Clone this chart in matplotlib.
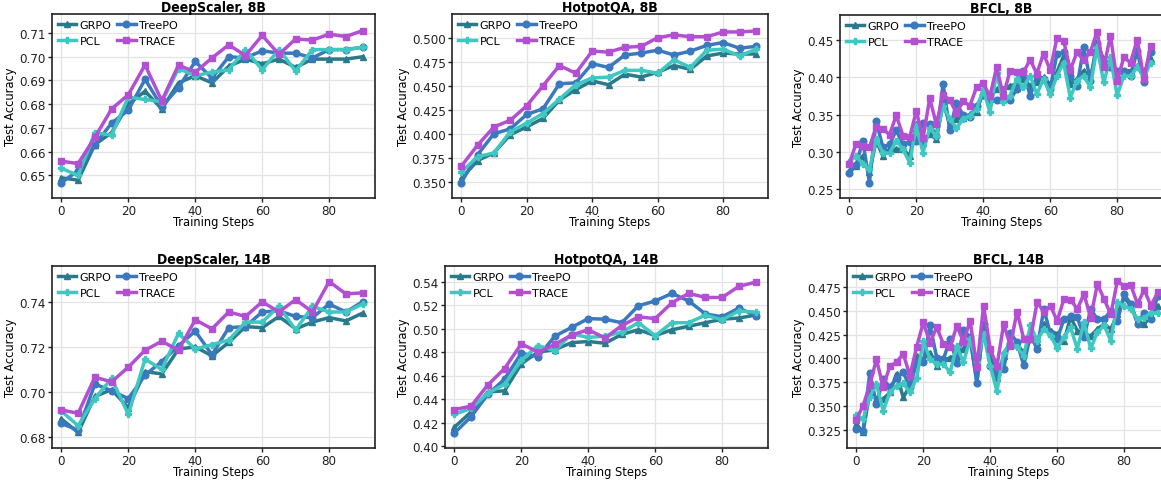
import matplotlib.pyplot as plt
import numpy as np

# training steps
steps_5 = np.arange(0, 91, 5)
steps_2 = np.arange(0, 91, 2)

# DeepScaler, 8B
ds8_grpo = [0.649, 0.648, 0.663, 0.668, 0.680, 0.6855, 0.678, 0.689, 0.692, 0.689,
            0.696, 0.699, 0.697, 0.699, 0.6955, 0.699, 0.699, 0.699, 0.700]
ds8_treepo = [0.647, 0.652, 0.663, 0.672, 0.6775, 0.6905, 0.679, 0.687, 0.698, 0.691,
              0.700, 0.6995, 0.7025, 0.7015, 0.7015, 0.6995, 0.703, 0.703, 0.704]
ds8_pcl = [0.653, 0.650, 0.668, 0.667, 0.683, 0.682, 0.681, 0.695, 0.692, 0.6935,
           0.6945, 0.703, 0.6945, 0.703, 0.694, 0.703, 0.703, 0.703, 0.704]
ds8_trace = [0.656, 0.655, 0.666, 0.678, 0.684, 0.6965, 0.6815, 0.6965, 0.6935, 0.6995,
             0.705, 0.7005, 0.709, 0.701, 0.7075, 0.707, 0.7095, 0.7085, 0.711]

# HotpotQA, 8B
hq8_grpo = [0.353, 0.372, 0.380, 0.399, 0.407, 0.416, 0.435, 0.446, 0.455, 0.451,
            0.462, 0.459, 0.464, 0.471, 0.467, 0.481, 0.484, 0.483, 0.483]
hq8_treepo = [0.349, 0.378, 0.400, 0.405, 0.420, 0.426, 0.452, 0.453, 0.473, 0.469,
              0.482, 0.484, 0.487, 0.482, 0.486, 0.492, 0.495, 0.489, 0.491]
hq8_pcl = [0.360, 0.376, 0.380, 0.402, 0.411, 0.421, 0.436, 0.451, 0.458, 0.459,
           0.466, 0.466, 0.463, 0.477, 0.469, 0.487, 0.488, 0.481, 0.488]
hq8_trace = [0.366, 0.388, 0.407, 0.414, 0.429, 0.450, 0.471, 0.463, 0.486, 0.485,
             0.490, 0.491, 0.500, 0.503, 0.501, 0.501, 0.506, 0.506, 0.507]

# BFCL, 8B
bf8_grpo = [0.2745, 0.281, 0.2946, 0.2723, 0.3148, 0.2946, 0.3036, 0.3036, 0.3036, 0.2946,
            0.337, 0.3125, 0.324, 0.317, 0.366, 0.337, 0.344, 0.346, 0.3505, 0.353,
            0.382, 0.374, 0.384, 0.384, 0.389, 0.391, 0.398, 0.389, 0.394, 0.400,
            0.391, 0.407, 0.429, 0.391, 0.398, 0.409, 0.398, 0.443, 0.425, 0.416,
            0.405, 0.409, 0.409, 0.416, 0.407, 0.425]
bf8_treepo = [0.2714, 0.282, 0.3147, 0.2588, 0.3416, 0.306, 0.310, 0.329, 0.310, 0.3135,
              0.315, 0.339, 0.337, 0.321, 0.391, 0.329, 0.366, 0.349, 0.347, 0.362,
              0.376, 0.370, 0.370, 0.370, 0.370, 0.384, 0.409, 0.375, 0.402, 0.398,
              0.384, 0.4317, 0.434, 0.402, 0.388, 0.4406, 0.3955, 0.447, 0.420, 0.4136,
              0.409, 0.409, 0.402, 0.436, 0.394, 0.434]
bf8_pcl = [0.2866, 0.2946, 0.2834, 0.2767, 0.317, 0.299, 0.298, 0.315, 0.3036, 0.2857,
           0.3345, 0.299, 0.332, 0.321, 0.3615, 0.344, 0.332, 0.344, 0.3485, 0.3575,
           0.384, 0.353, 0.4065, 0.3665, 0.3755, 0.398, 0.387, 0.402, 0.3776, 0.398,
           0.3776, 0.402, 0.420, 0.373, 0.3955, 0.402, 0.387, 0.4406, 0.3933, 0.427,
           0.376, 0.402, 0.402, 0.4136, 0.400, 0.420]
bf8_trace = [0.2843, 0.311, 0.308, 0.306, 0.334, 0.331, 0.323, 0.349, 0.322, 0.3195,
             0.355, 0.318, 0.372, 0.337, 0.376, 0.370, 0.352, 0.368, 0.362, 0.387,
             0.392, 0.375, 0.4136, 0.3756, 0.409, 0.4077, 0.407, 0.424, 0.405, 0.432,
             0.410, 0.4527, 0.4496, 0.410, 0.434, 0.423, 0.434, 0.4617, 0.4135, 0.456,
             0.3955, 0.427, 0.420, 0.451, 0.398, 0.443]

# DeepScaler, 14B
ds14_grpo = [0.688, 0.682, 0.698, 0.701, 0.693, 0.709, 0.708, 0.719, 0.720, 0.716,
             0.722, 0.729, 0.7285, 0.7335, 0.728, 0.731, 0.733, 0.7315, 0.735]
ds14_treepo = [0.686, 0.683, 0.7035, 0.7005, 0.697, 0.7075, 0.7135, 0.7205, 0.727, 0.7165,
               0.7285, 0.729, 0.7355, 0.736, 0.7335, 0.733, 0.739, 0.7355, 0.740]
ds14_pcl = [0.6915, 0.685, 0.697, 0.706, 0.690, 0.7145, 0.710, 0.726, 0.719, 0.721,
            0.723, 0.731, 0.731, 0.738, 0.7275, 0.738, 0.7355, 0.7355, 0.739]
ds14_trace = [0.692, 0.6905, 0.7065, 0.7045, 0.711, 0.7185, 0.7225, 0.7185, 0.732, 0.728,
              0.7355, 0.7335, 0.740, 0.7355, 0.741, 0.7355, 0.749, 0.7435, 0.744]

# HotpotQA, 14B
hq14_grpo = [0.416, 0.429, 0.446, 0.447, 0.470, 0.480, 0.482, 0.488, 0.489, 0.4875,
             0.495, 0.499, 0.494, 0.499, 0.502, 0.505, 0.508, 0.509, 0.5115]
hq14_treepo = [0.411, 0.425, 0.444, 0.457, 0.479, 0.476, 0.4935, 0.501, 0.5085, 0.508,
               0.505, 0.5195, 0.5235, 0.530, 0.5235, 0.5125, 0.510, 0.5175, 0.511]
hq14_pcl = [0.427, 0.432, 0.445, 0.4525, 0.473, 0.4855, 0.481, 0.4955, 0.4925, 0.4935,
            0.497, 0.505, 0.494, 0.505, 0.505, 0.5115, 0.5075, 0.515, 0.514]
hq14_trace = [0.431, 0.434, 0.452, 0.466, 0.487, 0.480, 0.4865, 0.4945, 0.499, 0.492,
              0.5025, 0.510, 0.5085, 0.522, 0.530, 0.5265, 0.5265, 0.536, 0.5395]

# BFCL, 14B
bf14_grpo = [0.3316, 0.323, 0.3645, 0.3575, 0.3575, 0.3645, 0.384, 0.3593, 0.3715, 0.4025,
             0.3993, 0.406, 0.392, 0.397, 0.401, 0.4025, 0.4095, 0.4202, 0.376, 0.4345,
             0.4025, 0.380, 0.4025, 0.417, 0.415, 0.406, 0.420, 0.417, 0.436, 0.429,
             0.4255, 0.418, 0.443, 0.429, 0.4255, 0.4237, 0.4307, 0.436, 0.4307, 0.446,
             0.4637, 0.455, 0.439, 0.436, 0.444, 0.455]
bf14_treepo = [0.3264, 0.3247, 0.385, 0.3526, 0.3786, 0.370, 0.3793, 0.3857, 0.370, 0.396,
               0.396, 0.4345, 0.401, 0.3993, 0.4202, 0.3955, 0.4293, 0.4223, 0.3743, 0.4363,
               0.392, 0.384, 0.389, 0.4267, 0.4169, 0.3927, 0.4246, 0.410, 0.4516, 0.4253,
               0.420, 0.441, 0.444, 0.443, 0.4222, 0.4516, 0.441, 0.441, 0.4499, 0.439,
               0.467, 0.4568, 0.436, 0.448, 0.441, 0.4655]
bf14_pcl = [0.341, 0.3365, 0.3602, 0.3733, 0.3453, 0.3645, 0.3715, 0.3743, 0.3645, 0.3793,
            0.4186, 0.3993, 0.394, 0.394, 0.3857, 0.4127, 0.396, 0.420, 0.396, 0.4255,
            0.392, 0.366, 0.406, 0.4169, 0.4117, 0.4029, 0.4345, 0.4186, 0.4307, 0.424,
            0.4105, 0.4222, 0.4325, 0.410, 0.4377, 0.4105, 0.4272, 0.4345, 0.4186, 0.4586,
            0.455, 0.4516, 0.441, 0.4426, 0.448, 0.4473]
bf14_trace = [0.3361, 0.3507, 0.3723, 0.3993, 0.370, 0.392, 0.396, 0.405, 0.382, 0.412,
              0.4377, 0.4163, 0.4327, 0.415, 0.412, 0.434, 0.4177, 0.4394, 0.3906, 0.455,
              0.4099, 0.392, 0.436, 0.4135, 0.449, 0.4206, 0.4206, 0.4586, 0.449, 0.4551,
              0.439, 0.4621, 0.4614, 0.4516, 0.4673, 0.4425, 0.4778, 0.4621, 0.446, 0.4813,
              0.4753, 0.4767, 0.4568, 0.4718, 0.455, 0.469]

methods = ['GRPO', 'TreePO', 'PCL', 'TRACE']
colors = {'GRPO': '#2b7a8c', 'TreePO': '#3a79bd', 'PCL': '#3fc7c2', 'TRACE': '#b34fd3'}
markers = {'GRPO': '^', 'TreePO': 'o', 'PCL': 'P', 'TRACE': 's'}
# legend fills column by column: GRPO/PCL on the left, TreePO/TRACE on the right
legend_order = ['GRPO', 'PCL', 'TreePO', 'TRACE']

panels = [
    ('DeepScaler, 8B', steps_5, [ds8_grpo, ds8_treepo, ds8_pcl, ds8_trace],
     (0.6405, 0.718), np.arange(0.65, 0.7101, 0.01), '{:.2f}'),
    ('HotpotQA, 8B', steps_5, [hq8_grpo, hq8_treepo, hq8_pcl, hq8_trace],
     (0.333, 0.5247), np.arange(0.35, 0.5001, 0.025), '{:.3f}'),
    ('BFCL, 8B', steps_2, [bf8_grpo, bf8_treepo, bf8_pcl, bf8_trace],
     (0.238, 0.484), np.arange(0.25, 0.4501, 0.05), '{:.2f}'),
    ('DeepScaler, 14B', steps_5, [ds14_grpo, ds14_treepo, ds14_pcl, ds14_trace],
     (0.6751, 0.7559), np.arange(0.68, 0.7401, 0.02), '{:.2f}'),
    ('HotpotQA, 14B', steps_5, [hq14_grpo, hq14_treepo, hq14_pcl, hq14_trace],
     (0.3983, 0.5533), np.arange(0.40, 0.5401, 0.02), '{:.2f}'),
    ('BFCL, 14B', steps_2, [bf14_grpo, bf14_treepo, bf14_pcl, bf14_trace],
     (0.3065, 0.4966), np.arange(0.325, 0.4751, 0.025), '{:.3f}'),
]

# axes boxes in pixels: left, right, top, bottom
boxes = [
    (52, 375, 15, 199), (452, 768, 15, 199), (840, 1163, 16, 199),
    (52, 375, 267, 449), (445, 768, 267, 449), (847, 1170, 267, 449),
]

W, H = 1161, 481
fig = plt.figure(figsize=(W / 100, H / 100), dpi=100)

for (title, xs, series, ylim, yticks, fmt), (l, r, t, b) in zip(panels, boxes):
    ax = fig.add_axes([l / W, (H - b) / H, (r - l) / W, (b - t) / H])
    lines = {}
    for name, ys in zip(methods, series):
        lines[name], = ax.plot(xs, ys, color=colors[name], marker=markers[name],
                               markersize=4.8, linewidth=2.5, label=name)
    ax.set_xlim(-2.8, 93.7)
    ax.set_ylim(*ylim)
    ax.set_xticks([0, 20, 40, 60, 80])
    ax.set_yticks(yticks)
    ax.set_yticklabels([fmt.format(v) for v in yticks])
    ax.tick_params(labelsize=9.5, length=3, width=1, pad=1.5, direction='out',
                   colors='#222222')
    for lab in ax.get_xticklabels() + ax.get_yticklabels():
        lab.set_fontstretch('condensed')
    ax.grid(True, color='#e3e3e3', linewidth=0.9)
    ax.set_axisbelow(True)
    for sp in ax.spines.values():
        sp.set_color('#222222')
        sp.set_linewidth(1.2)
    ax.set_title(title, fontsize=10, fontweight='bold', pad=0.8, fontstretch='condensed')
    ax.set_xlabel('Training Steps', fontsize=9.2, labelpad=-1.5, fontstretch='condensed')
    ax.set_ylabel('Test Accuracy', fontsize=9.2, labelpad=1.5, fontstretch='condensed')
    ax.legend([lines[n] for n in legend_order], legend_order,
              loc='upper left', ncol=2, frameon=False, fontsize=8,
              handlelength=1.65, handletextpad=0.3, columnspacing=0.5,
              labelspacing=0.5, borderaxespad=0.25, borderpad=0.3)

fig.savefig('out.png', dpi=100)
